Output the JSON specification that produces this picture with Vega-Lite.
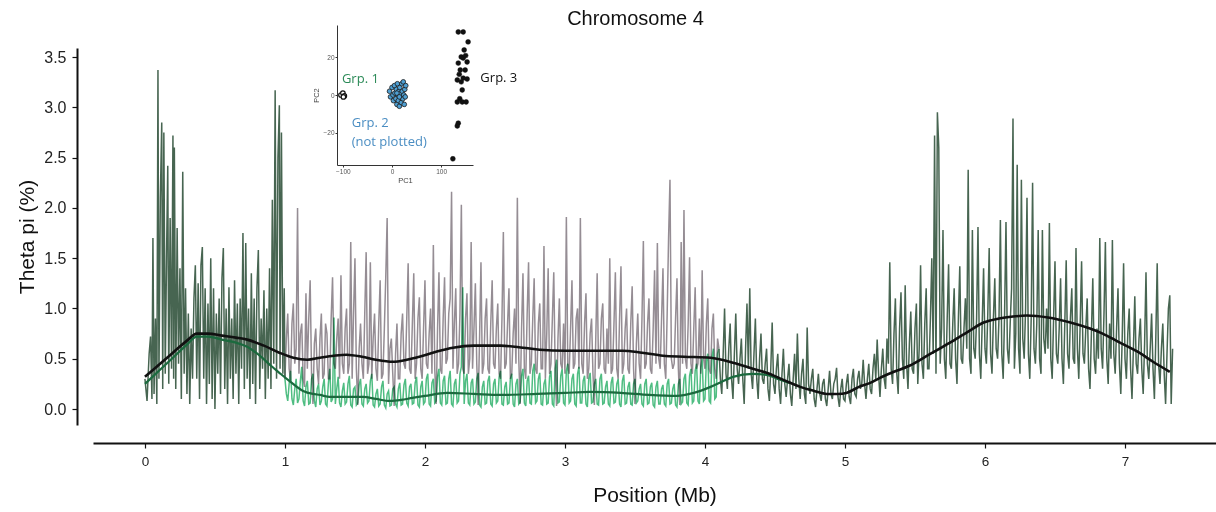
{
"$schema":"https://vega.github.io/schema/vega-lite/v6.json",
"width":1123,"height":377,
"autosize":{"type":"none"},
"padding":{"left":93,"top":48,"right":0,"bottom":87},
"background":"white",
"title":{"text":"Chromosome 4","fontSize":20,"font":"Liberation Sans","fontWeight":"normal","color":"#111","offset":-1,"dx":-19},
"datasets":{
"left":[{"x":0.00,"y":0.30},{"x":0.015,"y":0.08},{"x":0.03,"y":0.55},{"x":0.04,"y":0.72},{"x":0.05,"y":0.10},{"x":0.057,"y":1.70},{"x":0.065,"y":0.15},{"x":0.075,"y":0.90},{"x":0.085,"y":0.05},{"x":0.093,"y":3.37},{"x":0.10,"y":0.30},{"x":0.11,"y":2.10},{"x":0.12,"y":2.85},{"x":0.127,"y":0.20},{"x":0.135,"y":2.75},{"x":0.145,"y":0.35},{"x":0.155,"y":1.60},{"x":0.163,"y":2.42},{"x":0.17,"y":0.25},{"x":0.18,"y":1.90},{"x":0.19,"y":0.40},{"x":0.20,"y":2.72},{"x":0.205,"y":0.30},{"x":0.21,"y":2.60},{"x":0.22,"y":0.20},{"x":0.23,"y":1.80},{"x":0.24,"y":0.45},{"x":0.25,"y":1.40},{"x":0.26,"y":0.10},{"x":0.27,"y":2.36},{"x":0.28,"y":0.35},{"x":0.29,"y":1.20},{"x":0.30,"y":0.15},{"x":0.31,"y":0.95},{"x":0.32,"y":0.05},{"x":0.33,"y":0.80},{"x":0.34,"y":0.30},{"x":0.35,"y":1.10},{"x":0.36,"y":1.43},{"x":0.37,"y":0.30},{"x":0.38,"y":1.25},{"x":0.39,"y":0.10},{"x":0.40,"y":1.43},{"x":0.41,"y":1.61},{"x":0.42,"y":0.30},{"x":0.43,"y":1.20},{"x":0.44,"y":0.05},{"x":0.45,"y":1.05},{"x":0.46,"y":0.25},{"x":0.47,"y":1.50},{"x":0.48,"y":0.10},{"x":0.49,"y":1.20},{"x":0.50,"y":0.00},{"x":0.51,"y":0.95},{"x":0.52,"y":0.35},{"x":0.53,"y":1.10},{"x":0.54,"y":0.15},{"x":0.55,"y":1.30},{"x":0.56,"y":1.60},{"x":0.57,"y":0.20},{"x":0.58,"y":1.00},{"x":0.59,"y":0.05},{"x":0.60,"y":1.21},{"x":0.61,"y":0.30},{"x":0.62,"y":0.90},{"x":0.63,"y":0.10},{"x":0.64,"y":1.28},{"x":0.65,"y":0.35},{"x":0.66,"y":1.05},{"x":0.67,"y":0.05},{"x":0.68,"y":1.10},{"x":0.69,"y":0.40},{"x":0.70,"y":1.75},{"x":0.71,"y":0.20},{"x":0.72,"y":1.65},{"x":0.73,"y":0.30},{"x":0.74,"y":1.00},{"x":0.75,"y":0.10},{"x":0.76,"y":1.35},{"x":0.77,"y":0.25},{"x":0.78,"y":1.10},{"x":0.79,"y":0.05},{"x":0.80,"y":1.20},{"x":0.81,"y":1.58},{"x":0.82,"y":0.20},{"x":0.83,"y":0.90},{"x":0.84,"y":0.40},{"x":0.85,"y":1.18},{"x":0.86,"y":0.10},{"x":0.87,"y":1.00},{"x":0.88,"y":0.30},{"x":0.89,"y":1.40},{"x":0.90,"y":0.20},{"x":0.91,"y":2.08},{"x":0.92,"y":0.45},{"x":0.93,"y":3.17},{"x":0.94,"y":0.30},{"x":0.95,"y":2.50},{"x":0.96,"y":3.02},{"x":0.965,"y":0.40},{"x":0.975,"y":2.75},{"x":0.985,"y":0.35},{"x":0.995,"y":1.20},{"x":1.00,"y":0.30}],
"g3":[{"x":1.00,"y":0.30},{"x":1.01,"y":0.70},{"x":1.02,"y":0.95},{"x":1.03,"y":0.40},{"x":1.04,"y":0.28},{"x":1.05,"y":0.85},{"x":1.06,"y":1.05},{"x":1.07,"y":0.45},{"x":1.08,"y":0.60},{"x":1.09,"y":2.00},
{"x":1.10,"y":0.35},{"x":1.11,"y":0.75},{"x":1.12,"y":0.85},{"x":1.13,"y":0.30},{"x":1.14,"y":0.22},{"x":1.15,"y":1.15},{"x":1.16,"y":0.40},{"x":1.17,"y":0.90},{"x":1.18,"y":1.28},{"x":1.19,"y":0.35},
{"x":1.20,"y":0.05},{"x":1.21,"y":0.65},{"x":1.22,"y":0.80},{"x":1.23,"y":0.40},{"x":1.24,"y":0.25},{"x":1.25,"y":0.70},{"x":1.26,"y":0.95},{"x":1.27,"y":0.30},{"x":1.28,"y":0.35},{"x":1.29,"y":0.85},
{"x":1.30,"y":0.75},{"x":1.31,"y":0.30},{"x":1.32,"y":0.30},{"x":1.33,"y":0.90},{"x":1.34,"y":1.31},{"x":1.35,"y":0.45},{"x":1.36,"y":0.40},{"x":1.37,"y":0.70},{"x":1.38,"y":0.90},{"x":1.39,"y":0.30},
{"x":1.40,"y":1.33},{"x":1.41,"y":0.45},{"x":1.42,"y":0.35},{"x":1.43,"y":0.80},{"x":1.44,"y":1.00},{"x":1.45,"y":0.35},{"x":1.46,"y":0.45},{"x":1.47,"y":1.66},{"x":1.48,"y":0.30},{"x":1.49,"y":0.95},
{"x":1.50,"y":1.50},{"x":1.51,"y":0.40},{"x":1.52,"y":0.04},{"x":1.53,"y":0.60},{"x":1.54,"y":0.85},{"x":1.55,"y":0.45},{"x":1.56,"y":0.30},{"x":1.57,"y":0.95},{"x":1.58,"y":1.56},{"x":1.59,"y":0.35},
{"x":1.60,"y":0.45},{"x":1.61,"y":1.46},{"x":1.62,"y":0.30},{"x":1.63,"y":0.70},{"x":1.64,"y":0.95},{"x":1.65,"y":0.40},{"x":1.66,"y":0.28},{"x":1.67,"y":0.85},{"x":1.68,"y":1.28},{"x":1.69,"y":0.30},
{"x":1.70,"y":0.35},{"x":1.71,"y":0.80},{"x":1.72,"y":1.31},{"x":1.73,"y":1.90},{"x":1.74,"y":0.25},{"x":1.75,"y":0.60},{"x":1.76,"y":0.70},{"x":1.77,"y":0.35},{"x":1.78,"y":0.03},{"x":1.79,"y":0.55},
{"x":1.80,"y":0.85},{"x":1.81,"y":0.30},{"x":1.82,"y":0.30},{"x":1.83,"y":0.75},{"x":1.84,"y":0.95},{"x":1.85,"y":0.45},{"x":1.86,"y":0.40},{"x":1.87,"y":0.90},{"x":1.88,"y":1.45},{"x":1.89,"y":0.40},
{"x":1.90,"y":0.35},{"x":1.91,"y":0.85},{"x":1.92,"y":1.35},{"x":1.93,"y":0.30},{"x":1.94,"y":0.45},{"x":1.95,"y":0.90},{"x":1.96,"y":1.11},{"x":1.97,"y":0.40},{"x":1.98,"y":0.30},{"x":1.99,"y":0.80},
{"x":2.00,"y":1.28},{"x":2.01,"y":0.45},{"x":2.02,"y":0.40},{"x":2.03,"y":0.75},{"x":2.04,"y":1.00},{"x":2.05,"y":0.35},{"x":2.06,"y":1.63},{"x":2.07,"y":0.40},{"x":2.08,"y":0.05},{"x":2.09,"y":0.80},
{"x":2.10,"y":1.36},{"x":2.11,"y":0.40},{"x":2.12,"y":0.35},{"x":2.13,"y":0.90},{"x":2.14,"y":1.31},{"x":2.15,"y":0.45},{"x":2.16,"y":0.50},{"x":2.17,"y":0.95},{"x":2.18,"y":1.10},{"x":2.19,"y":2.16},
{"x":2.20,"y":0.40},{"x":2.21,"y":0.85},{"x":2.22,"y":1.20},{"x":2.23,"y":0.35},{"x":2.24,"y":0.45},{"x":2.25,"y":0.95},{"x":2.26,"y":2.03},{"x":2.27,"y":0.40},{"x":2.28,"y":0.35},{"x":2.29,"y":0.90},
{"x":2.30,"y":1.15},{"x":2.31,"y":0.35},{"x":2.32,"y":0.50},{"x":2.33,"y":1.66},{"x":2.34,"y":0.40},{"x":2.35,"y":0.80},{"x":2.36,"y":1.25},{"x":2.37,"y":0.45},{"x":2.38,"y":0.04},{"x":2.39,"y":0.70},
{"x":2.40,"y":1.46},{"x":2.41,"y":0.35},{"x":2.42,"y":0.45},{"x":2.43,"y":0.90},{"x":2.44,"y":1.10},{"x":2.45,"y":0.40},{"x":2.46,"y":0.35},{"x":2.47,"y":0.85},{"x":2.48,"y":1.28},{"x":2.49,"y":0.45},
{"x":2.50,"y":0.40},{"x":2.51,"y":0.80},{"x":2.52,"y":1.05},{"x":2.53,"y":0.35},{"x":2.54,"y":0.30},{"x":2.55,"y":0.90},{"x":2.56,"y":1.76},{"x":2.57,"y":0.40},{"x":2.58,"y":0.45},{"x":2.59,"y":0.85},
{"x":2.60,"y":1.20},{"x":2.61,"y":0.30},{"x":2.62,"y":0.35},{"x":2.63,"y":0.75},{"x":2.64,"y":1.00},{"x":2.65,"y":0.45},{"x":2.66,"y":2.10},{"x":2.67,"y":0.50},{"x":2.68,"y":0.05},{"x":2.69,"y":0.80},
{"x":2.70,"y":1.35},{"x":2.71,"y":0.40},{"x":2.72,"y":0.30},{"x":2.73,"y":0.95},{"x":2.74,"y":1.46},{"x":2.75,"y":0.35},{"x":2.76,"y":0.45},{"x":2.77,"y":0.90},{"x":2.78,"y":1.30},{"x":2.79,"y":0.40},
{"x":2.80,"y":0.35},{"x":2.81,"y":0.85},{"x":2.82,"y":1.05},{"x":2.83,"y":0.40},{"x":2.84,"y":0.40},{"x":2.85,"y":1.62},{"x":2.86,"y":0.30},{"x":2.87,"y":0.75},{"x":2.88,"y":1.40},{"x":2.89,"y":0.35},
{"x":2.90,"y":0.45},{"x":2.91,"y":0.90},{"x":2.92,"y":1.36},{"x":2.93,"y":0.40},{"x":2.94,"y":0.03},{"x":2.95,"y":0.70},{"x":2.96,"y":1.10},{"x":2.97,"y":0.45},{"x":2.98,"y":0.40},{"x":2.99,"y":0.85},
{"x":3.00,"y":0.35},{"x":3.01,"y":1.91},{"x":3.02,"y":0.45},{"x":3.03,"y":0.35},{"x":3.04,"y":0.80},{"x":3.05,"y":1.28},{"x":3.06,"y":0.40},{"x":3.07,"y":0.45},{"x":3.08,"y":0.90},{"x":3.09,"y":1.00},
{"x":3.10,"y":0.40},{"x":3.11,"y":1.90},{"x":3.12,"y":0.45},{"x":3.13,"y":0.35},{"x":3.14,"y":0.85},{"x":3.15,"y":1.15},{"x":3.16,"y":0.30},{"x":3.17,"y":0.40},{"x":3.18,"y":0.75},{"x":3.19,"y":0.90},
{"x":3.20,"y":0.35},{"x":3.21,"y":0.04},{"x":3.22,"y":0.70},{"x":3.23,"y":1.35},{"x":3.24,"y":0.40},{"x":3.25,"y":0.45},{"x":3.26,"y":0.90},{"x":3.27,"y":1.05},{"x":3.28,"y":0.40},{"x":3.29,"y":0.35},
{"x":3.30,"y":0.80},{"x":3.31,"y":0.45},{"x":3.32,"y":1.50},{"x":3.33,"y":0.35},{"x":3.34,"y":0.40},{"x":3.35,"y":0.85},{"x":3.36,"y":1.36},{"x":3.37,"y":0.40},{"x":3.38,"y":0.30},{"x":3.39,"y":0.90},
{"x":3.40,"y":1.42},{"x":3.41,"y":0.35},{"x":3.42,"y":0.45},{"x":3.43,"y":0.80},{"x":3.44,"y":1.00},{"x":3.45,"y":0.40},{"x":3.46,"y":0.35},{"x":3.47,"y":0.85},{"x":3.48,"y":1.22},{"x":3.49,"y":0.40},
{"x":3.50,"y":0.05},{"x":3.51,"y":0.65},{"x":3.52,"y":0.95},{"x":3.53,"y":0.45},{"x":3.54,"y":0.30},{"x":3.55,"y":0.90},{"x":3.56,"y":1.67},{"x":3.57,"y":0.40},{"x":3.58,"y":0.45},{"x":3.59,"y":0.85},
{"x":3.60,"y":1.10},{"x":3.61,"y":0.40},{"x":3.62,"y":0.35},{"x":3.63,"y":0.80},{"x":3.64,"y":1.38},{"x":3.65,"y":0.45},{"x":3.66,"y":1.65},{"x":3.67,"y":0.50},{"x":3.68,"y":0.40},{"x":3.69,"y":0.90},
{"x":3.70,"y":1.40},{"x":3.71,"y":0.45},{"x":3.72,"y":0.30},{"x":3.73,"y":0.95},{"x":3.74,"y":1.70},{"x":3.75,"y":2.28},{"x":3.76,"y":0.50},{"x":3.77,"y":0.40},{"x":3.78,"y":0.45},{"x":3.79,"y":0.90},
{"x":3.80,"y":1.30},{"x":3.81,"y":0.40},{"x":3.82,"y":0.04},{"x":3.83,"y":1.66},{"x":3.84,"y":0.45},{"x":3.85,"y":1.98},{"x":3.86,"y":0.50},{"x":3.87,"y":0.40},{"x":3.88,"y":0.85},{"x":3.89,"y":1.51},
{"x":3.90,"y":0.45},{"x":3.91,"y":0.35},{"x":3.92,"y":0.80},{"x":3.93,"y":1.21},{"x":3.94,"y":0.40},{"x":3.95,"y":0.45},{"x":3.96,"y":0.90},{"x":3.97,"y":0.35},{"x":3.98,"y":1.38},{"x":3.99,"y":0.50},
{"x":4.00,"y":0.40},{"x":4.01,"y":0.85},{"x":4.02,"y":1.10},{"x":4.03,"y":0.40},{"x":4.04,"y":0.35},{"x":4.05,"y":0.80},{"x":4.06,"y":0.95},{"x":4.07,"y":0.40},{"x":4.08,"y":0.30},{"x":4.09,"y":0.70},{"x":4.10,"y":0.60}],
"g1":[{"x":1.00,"y":0.30},{"x":1.01,"y":0.15},{"x":1.02,"y":0.08},{"x":1.03,"y":0.25},{"x":1.04,"y":0.38},{"x":1.05,"y":0.10},{"x":1.06,"y":0.04},{"x":1.07,"y":0.20},{"x":1.08,"y":0.30},{"x":1.09,"y":0.06},
{"x":1.10,"y":0.10},{"x":1.11,"y":0.28},{"x":1.12,"y":0.42},{"x":1.13,"y":0.08},{"x":1.14,"y":0.03},{"x":1.15,"y":0.22},{"x":1.16,"y":0.28},{"x":1.17,"y":0.05},{"x":1.18,"y":0.06},{"x":1.19,"y":0.30},
{"x":1.20,"y":0.35},{"x":1.21,"y":0.08},{"x":1.22,"y":0.02},{"x":1.23,"y":0.20},{"x":1.24,"y":0.25},{"x":1.25,"y":0.04},{"x":1.26,"y":0.08},{"x":1.27,"y":0.22},{"x":1.28,"y":0.30},{"x":1.29,"y":0.05},
{"x":1.30,"y":0.03},{"x":1.31,"y":0.25},{"x":1.32,"y":0.40},{"x":1.33,"y":0.07},{"x":1.34,"y":0.10},{"x":1.35,"y":0.91},{"x":1.36,"y":0.05},{"x":1.37,"y":0.20},{"x":1.38,"y":0.32},{"x":1.39,"y":0.06},
{"x":1.40,"y":0.02},{"x":1.41,"y":0.18},{"x":1.42,"y":0.26},{"x":1.43,"y":0.05},{"x":1.44,"y":0.07},{"x":1.45,"y":0.25},{"x":1.46,"y":0.33},{"x":1.47,"y":0.04},{"x":1.48,"y":0.02},{"x":1.49,"y":0.20},
{"x":1.50,"y":0.22},{"x":1.51,"y":0.04},{"x":1.52,"y":0.06},{"x":1.53,"y":0.24},{"x":1.54,"y":0.30},{"x":1.55,"y":0.05},{"x":1.56,"y":0.03},{"x":1.57,"y":0.20},{"x":1.58,"y":0.25},{"x":1.59,"y":0.06},
{"x":1.60,"y":0.08},{"x":1.61,"y":0.28},{"x":1.62,"y":0.35},{"x":1.63,"y":0.04},{"x":1.64,"y":0.02},{"x":1.65,"y":0.15},{"x":1.66,"y":0.20},{"x":1.67,"y":0.03},{"x":1.68,"y":0.05},{"x":1.69,"y":0.22},
{"x":1.70,"y":0.28},{"x":1.71,"y":0.04},{"x":1.72,"y":0.01},{"x":1.73,"y":0.15},{"x":1.74,"y":0.18},{"x":1.75,"y":0.03},{"x":1.76,"y":0.04},{"x":1.77,"y":0.20},{"x":1.78,"y":0.22},{"x":1.79,"y":0.05},
{"x":1.80,"y":0.02},{"x":1.81,"y":0.20},{"x":1.82,"y":0.26},{"x":1.83,"y":0.04},{"x":1.84,"y":0.05},{"x":1.85,"y":0.24},{"x":1.86,"y":0.30},{"x":1.87,"y":0.06},{"x":1.88,"y":0.03},{"x":1.89,"y":0.22},
{"x":1.90,"y":0.25},{"x":1.91,"y":0.05},{"x":1.92,"y":0.06},{"x":1.93,"y":0.26},{"x":1.94,"y":0.32},{"x":1.95,"y":0.04},{"x":1.96,"y":0.02},{"x":1.97,"y":0.22},{"x":1.98,"y":0.28},{"x":1.99,"y":0.05},
{"x":2.00,"y":0.07},{"x":2.01,"y":0.30},{"x":2.02,"y":0.35},{"x":2.03,"y":0.05},{"x":2.04,"y":0.03},{"x":2.05,"y":0.26},{"x":2.06,"y":0.30},{"x":2.07,"y":0.06},{"x":2.08,"y":0.08},{"x":2.09,"y":0.32},
{"x":2.10,"y":0.40},{"x":2.11,"y":0.06},{"x":2.12,"y":0.04},{"x":2.13,"y":0.28},{"x":2.14,"y":0.33},{"x":2.15,"y":0.05},{"x":2.16,"y":0.06},{"x":2.17,"y":0.30},{"x":2.18,"y":0.38},{"x":2.19,"y":0.05},
{"x":2.20,"y":0.03},{"x":2.21,"y":0.25},{"x":2.22,"y":0.30},{"x":2.23,"y":0.06},{"x":2.24,"y":0.08},{"x":2.25,"y":0.35},{"x":2.26,"y":0.42},{"x":2.27,"y":1.21},{"x":2.28,"y":0.05},{"x":2.29,"y":0.28},
{"x":2.30,"y":0.35},{"x":2.31,"y":0.06},{"x":2.32,"y":0.04},{"x":2.33,"y":0.26},{"x":2.34,"y":0.30},{"x":2.35,"y":0.05},{"x":2.36,"y":0.07},{"x":2.37,"y":0.30},{"x":2.38,"y":0.36},{"x":2.39,"y":0.04},
{"x":2.40,"y":0.02},{"x":2.41,"y":0.22},{"x":2.42,"y":0.28},{"x":2.43,"y":0.05},{"x":2.44,"y":0.06},{"x":2.45,"y":0.28},{"x":2.46,"y":0.33},{"x":2.47,"y":0.05},{"x":2.48,"y":0.03},{"x":2.49,"y":0.25},
{"x":2.50,"y":0.30},{"x":2.51,"y":0.06},{"x":2.52,"y":0.08},{"x":2.53,"y":0.32},{"x":2.54,"y":0.38},{"x":2.55,"y":0.05},{"x":2.56,"y":0.04},{"x":2.57,"y":0.22},{"x":2.58,"y":0.27},{"x":2.59,"y":0.05},
{"x":2.60,"y":0.06},{"x":2.61,"y":0.30},{"x":2.62,"y":0.35},{"x":2.63,"y":0.05},{"x":2.64,"y":0.02},{"x":2.65,"y":0.25},{"x":2.66,"y":0.30},{"x":2.67,"y":0.05},{"x":2.68,"y":0.07},{"x":2.69,"y":0.33},
{"x":2.70,"y":0.40},{"x":2.71,"y":0.06},{"x":2.72,"y":0.03},{"x":2.73,"y":0.28},{"x":2.74,"y":0.33},{"x":2.75,"y":0.06},{"x":2.76,"y":0.05},{"x":2.77,"y":0.38},{"x":2.78,"y":0.45},{"x":2.79,"y":0.06},
{"x":2.80,"y":0.08},{"x":2.81,"y":0.30},{"x":2.82,"y":0.36},{"x":2.83,"y":0.05},{"x":2.84,"y":0.04},{"x":2.85,"y":0.25},{"x":2.86,"y":0.30},{"x":2.87,"y":0.05},{"x":2.88,"y":0.06},{"x":2.89,"y":0.32},
{"x":2.90,"y":0.38},{"x":2.91,"y":0.05},{"x":2.92,"y":0.03},{"x":2.93,"y":0.40},{"x":2.94,"y":0.49},{"x":2.95,"y":0.06},{"x":2.96,"y":0.07},{"x":2.97,"y":0.33},{"x":2.98,"y":0.40},{"x":2.99,"y":0.06},
{"x":3.00,"y":0.04},{"x":3.01,"y":0.38},{"x":3.02,"y":0.45},{"x":3.03,"y":0.06},{"x":3.04,"y":0.08},{"x":3.05,"y":0.30},{"x":3.06,"y":0.35},{"x":3.07,"y":0.05},{"x":3.08,"y":0.03},{"x":3.09,"y":0.35},
{"x":3.10,"y":0.42},{"x":3.11,"y":0.06},{"x":3.12,"y":0.06},{"x":3.13,"y":0.28},{"x":3.14,"y":0.33},{"x":3.15,"y":0.05},{"x":3.16,"y":0.02},{"x":3.17,"y":0.30},{"x":3.18,"y":0.36},{"x":3.19,"y":0.06},
{"x":3.20,"y":0.07},{"x":3.21,"y":0.25},{"x":3.22,"y":0.30},{"x":3.23,"y":0.05},{"x":3.24,"y":0.04},{"x":3.25,"y":0.30},{"x":3.26,"y":0.35},{"x":3.27,"y":0.05},{"x":3.28,"y":0.06},{"x":3.29,"y":0.22},
{"x":3.30,"y":0.28},{"x":3.31,"y":0.05},{"x":3.32,"y":0.03},{"x":3.33,"y":0.26},{"x":3.34,"y":0.32},{"x":3.35,"y":0.06},{"x":3.36,"y":0.07},{"x":3.37,"y":0.25},{"x":3.38,"y":0.30},{"x":3.39,"y":0.05},
{"x":3.40,"y":0.02},{"x":3.41,"y":0.28},{"x":3.42,"y":0.34},{"x":3.43,"y":0.05},{"x":3.44,"y":0.06},{"x":3.45,"y":0.22},{"x":3.46,"y":0.27},{"x":3.47,"y":0.05},{"x":3.48,"y":0.04},{"x":3.49,"y":0.25},
{"x":3.50,"y":0.30},{"x":3.51,"y":0.06},{"x":3.52,"y":0.08},{"x":3.53,"y":0.20},{"x":3.54,"y":0.25},{"x":3.55,"y":0.05},{"x":3.56,"y":0.03},{"x":3.57,"y":0.25},{"x":3.58,"y":0.30},{"x":3.59,"y":0.05},
{"x":3.60,"y":0.06},{"x":3.61,"y":0.22},{"x":3.62,"y":0.26},{"x":3.63,"y":0.04},{"x":3.64,"y":0.02},{"x":3.65,"y":0.22},{"x":3.66,"y":0.28},{"x":3.67,"y":0.05},{"x":3.68,"y":0.05},{"x":3.69,"y":0.20},
{"x":3.70,"y":0.24},{"x":3.71,"y":0.05},{"x":3.72,"y":0.03},{"x":3.73,"y":0.25},{"x":3.74,"y":0.30},{"x":3.75,"y":0.05},{"x":3.76,"y":0.06},{"x":3.77,"y":0.20},{"x":3.78,"y":0.25},{"x":3.79,"y":0.04},
{"x":3.80,"y":0.02},{"x":3.81,"y":0.25},{"x":3.82,"y":0.30},{"x":3.83,"y":0.05},{"x":3.84,"y":0.07},{"x":3.85,"y":0.30},{"x":3.86,"y":0.35},{"x":3.87,"y":0.06},{"x":3.88,"y":0.04},{"x":3.89,"y":0.33},
{"x":3.90,"y":0.40},{"x":3.91,"y":0.06},{"x":3.92,"y":0.08},{"x":3.93,"y":0.38},{"x":3.94,"y":0.45},{"x":3.95,"y":0.08},{"x":3.96,"y":0.05},{"x":3.97,"y":0.42},{"x":3.98,"y":0.50},{"x":3.99,"y":0.08},
{"x":4.00,"y":0.10},{"x":4.01,"y":0.48},{"x":4.02,"y":0.55},{"x":4.03,"y":0.08},{"x":4.04,"y":0.06},{"x":4.05,"y":0.52},{"x":4.06,"y":0.60},{"x":4.07,"y":0.10},{"x":4.08,"y":0.12},{"x":4.09,"y":0.55},{"x":4.10,"y":0.60}],
"right":[{"x":4.10,"y":0.60},{"x":4.11,"y":0.30},{"x":4.12,"y":0.15},{"x":4.13,"y":0.55},{"x":4.14,"y":1.00},{"x":4.15,"y":0.35},{"x":4.16,"y":0.20},{"x":4.17,"y":0.60},{"x":4.18,"y":0.85},{"x":4.19,"y":0.30},
{"x":4.20,"y":0.10},{"x":4.21,"y":0.55},{"x":4.22,"y":0.95},{"x":4.23,"y":0.40},{"x":4.24,"y":0.25},{"x":4.25,"y":0.50},{"x":4.26,"y":0.70},{"x":4.27,"y":0.30},{"x":4.28,"y":0.05},{"x":4.29,"y":0.60},
{"x":4.30,"y":1.05},{"x":4.31,"y":0.40},{"x":4.32,"y":1.20},{"x":4.33,"y":0.35},{"x":4.34,"y":0.20},{"x":4.35,"y":0.55},{"x":4.36,"y":0.90},{"x":4.37,"y":0.30},{"x":4.38,"y":0.10},{"x":4.39,"y":0.50},
{"x":4.40,"y":0.75},{"x":4.41,"y":0.30},{"x":4.42,"y":0.25},{"x":4.43,"y":0.45},{"x":4.44,"y":0.60},{"x":4.45,"y":0.20},{"x":4.46,"y":0.08},{"x":4.47,"y":0.40},{"x":4.48,"y":0.86},{"x":4.49,"y":0.25},
{"x":4.50,"y":0.15},{"x":4.51,"y":0.40},{"x":4.52,"y":0.55},{"x":4.53,"y":0.20},{"x":4.54,"y":0.05},{"x":4.55,"y":0.35},{"x":4.56,"y":0.60},{"x":4.57,"y":0.25},{"x":4.58,"y":0.12},{"x":4.59,"y":0.30},
{"x":4.60,"y":0.45},{"x":4.61,"y":0.15},{"x":4.62,"y":0.03},{"x":4.63,"y":0.30},{"x":4.64,"y":0.55},{"x":4.65,"y":0.20},{"x":4.66,"y":0.75},{"x":4.67,"y":0.30},{"x":4.68,"y":0.10},{"x":4.69,"y":0.35},
{"x":4.70,"y":0.50},{"x":4.71,"y":0.15},{"x":4.72,"y":0.05},{"x":4.73,"y":0.81},{"x":4.74,"y":0.25},{"x":4.75,"y":0.15},{"x":4.76,"y":0.30},{"x":4.77,"y":0.40},{"x":4.78,"y":0.10},{"x":4.79,"y":0.02},
{"x":4.80,"y":0.20},{"x":4.81,"y":0.35},{"x":4.82,"y":0.15},{"x":4.83,"y":0.08},{"x":4.84,"y":0.25},{"x":4.85,"y":0.30},{"x":4.86,"y":0.10},{"x":4.87,"y":0.03},{"x":4.88,"y":0.20},{"x":4.89,"y":0.38},
{"x":4.90,"y":0.15},{"x":4.91,"y":0.10},{"x":4.92,"y":0.25},{"x":4.93,"y":0.30},{"x":4.94,"y":0.41},{"x":4.95,"y":0.12},{"x":4.96,"y":0.02},{"x":4.97,"y":0.20},{"x":4.98,"y":0.30},{"x":4.99,"y":0.10},
{"x":5.00,"y":0.08},{"x":5.01,"y":0.25},{"x":5.02,"y":0.35},{"x":5.03,"y":0.12},{"x":5.04,"y":0.05},{"x":5.05,"y":0.30},{"x":5.06,"y":0.40},{"x":5.07,"y":0.15},{"x":5.08,"y":0.12},{"x":5.09,"y":0.30},
{"x":5.10,"y":0.38},{"x":5.11,"y":0.20},{"x":5.12,"y":0.25},{"x":5.13,"y":0.49},{"x":5.14,"y":0.25},{"x":5.15,"y":0.10},{"x":5.16,"y":0.30},{"x":5.17,"y":0.45},{"x":5.18,"y":0.20},{"x":5.19,"y":0.15},
{"x":5.20,"y":0.40},{"x":5.21,"y":0.55},{"x":5.22,"y":0.30},{"x":5.23,"y":0.69},{"x":5.24,"y":0.35},{"x":5.25,"y":0.12},{"x":5.26,"y":0.40},{"x":5.27,"y":0.60},{"x":5.28,"y":0.30},{"x":5.29,"y":0.20},
{"x":5.30,"y":0.70},{"x":5.31,"y":0.45},{"x":5.32,"y":1.46},{"x":5.33,"y":0.40},{"x":5.34,"y":0.25},{"x":5.35,"y":0.75},{"x":5.36,"y":1.10},{"x":5.37,"y":0.35},{"x":5.38,"y":0.15},{"x":5.39,"y":0.80},
{"x":5.40,"y":1.16},{"x":5.41,"y":0.50},{"x":5.42,"y":0.30},{"x":5.43,"y":1.23},{"x":5.44,"y":0.45},{"x":5.45,"y":0.20},{"x":5.46,"y":0.65},{"x":5.47,"y":0.97},{"x":5.48,"y":0.40},{"x":5.49,"y":0.35},
{"x":5.50,"y":0.80},{"x":5.51,"y":1.05},{"x":5.52,"y":0.25},{"x":5.53,"y":0.60},{"x":5.54,"y":1.43},{"x":5.55,"y":0.45},{"x":5.56,"y":0.30},{"x":5.57,"y":0.85},{"x":5.58,"y":1.20},{"x":5.59,"y":0.40},
{"x":5.60,"y":0.40},{"x":5.61,"y":0.90},{"x":5.62,"y":1.50},{"x":5.63,"y":0.55},{"x":5.64,"y":2.72},{"x":5.65,"y":0.35},{"x":5.66,"y":2.95},{"x":5.67,"y":2.60},{"x":5.68,"y":0.45},{"x":5.69,"y":0.80},
{"x":5.70,"y":1.78},{"x":5.71,"y":0.50},{"x":5.72,"y":0.30},{"x":5.73,"y":0.90},{"x":5.74,"y":1.44},{"x":5.75,"y":0.45},{"x":5.76,"y":0.40},{"x":5.77,"y":0.85},{"x":5.78,"y":1.20},{"x":5.79,"y":0.50},
{"x":5.80,"y":0.25},{"x":5.81,"y":0.90},{"x":5.82,"y":1.42},{"x":5.83,"y":0.50},{"x":5.84,"y":0.45},{"x":5.85,"y":0.80},{"x":5.86,"y":1.10},{"x":5.87,"y":0.60},{"x":5.88,"y":2.38},{"x":5.89,"y":0.50},
{"x":5.90,"y":0.35},{"x":5.91,"y":1.78},{"x":5.92,"y":0.60},{"x":5.93,"y":0.50},{"x":5.94,"y":0.90},{"x":5.95,"y":1.81},{"x":5.96,"y":0.55},{"x":5.97,"y":0.30},{"x":5.98,"y":0.85},{"x":5.99,"y":1.40},
{"x":6.00,"y":0.60},{"x":6.01,"y":0.45},{"x":6.02,"y":0.95},{"x":6.03,"y":1.60},{"x":6.04,"y":0.55},{"x":6.05,"y":0.35},{"x":6.06,"y":0.90},{"x":6.07,"y":1.30},{"x":6.08,"y":0.60},{"x":6.09,"y":0.50},
{"x":6.10,"y":0.90},{"x":6.11,"y":1.88},{"x":6.12,"y":0.55},{"x":6.13,"y":0.30},{"x":6.14,"y":0.95},{"x":6.15,"y":1.86},{"x":6.16,"y":0.60},{"x":6.17,"y":0.45},{"x":6.18,"y":0.85},{"x":6.19,"y":1.20},
{"x":6.20,"y":2.89},{"x":6.21,"y":0.40},{"x":6.22,"y":0.75},{"x":6.23,"y":2.43},{"x":6.24,"y":0.60},{"x":6.25,"y":0.35},{"x":6.26,"y":2.28},{"x":6.27,"y":0.70},{"x":6.28,"y":0.50},{"x":6.29,"y":1.00},
{"x":6.30,"y":2.10},{"x":6.31,"y":0.55},{"x":6.32,"y":0.30},{"x":6.33,"y":0.90},{"x":6.34,"y":2.25},{"x":6.35,"y":0.60},{"x":6.36,"y":0.45},{"x":6.37,"y":0.85},{"x":6.38,"y":1.78},{"x":6.39,"y":0.50},
{"x":6.40,"y":0.35},{"x":6.41,"y":1.78},{"x":6.42,"y":0.70},{"x":6.43,"y":0.55},{"x":6.44,"y":1.00},{"x":6.45,"y":0.60},{"x":6.46,"y":1.85},{"x":6.47,"y":0.50},{"x":6.48,"y":0.30},{"x":6.49,"y":0.90},
{"x":6.50,"y":1.47},{"x":6.51,"y":0.55},{"x":6.52,"y":0.45},{"x":6.53,"y":0.80},{"x":6.54,"y":1.30},{"x":6.55,"y":0.50},{"x":6.56,"y":0.25},{"x":6.57,"y":0.85},{"x":6.58,"y":1.48},{"x":6.59,"y":0.55},
{"x":6.60,"y":0.40},{"x":6.61,"y":0.90},{"x":6.62,"y":1.20},{"x":6.63,"y":0.50},{"x":6.64,"y":0.45},{"x":6.65,"y":1.60},{"x":6.66,"y":0.60},{"x":6.67,"y":0.30},{"x":6.68,"y":0.85},{"x":6.69,"y":1.47},
{"x":6.70,"y":0.55},{"x":6.71,"y":0.45},{"x":6.72,"y":0.80},{"x":6.73,"y":1.10},{"x":6.74,"y":0.40},{"x":6.75,"y":0.20},{"x":6.76,"y":0.75},{"x":6.77,"y":1.30},{"x":6.78,"y":0.50},{"x":6.79,"y":0.35},
{"x":6.80,"y":0.80},{"x":6.81,"y":0.50},{"x":6.82,"y":1.70},{"x":6.83,"y":0.60},{"x":6.84,"y":0.40},{"x":6.85,"y":0.95},{"x":6.86,"y":1.66},{"x":6.87,"y":0.50},{"x":6.88,"y":0.25},{"x":6.89,"y":0.85},
{"x":6.90,"y":0.50},{"x":6.91,"y":1.68},{"x":6.92,"y":0.55},{"x":6.93,"y":0.35},{"x":6.94,"y":0.80},{"x":6.95,"y":1.20},{"x":6.96,"y":0.45},{"x":6.97,"y":0.15},{"x":6.98,"y":0.70},{"x":6.99,"y":1.45},
{"x":7.00,"y":0.50},{"x":7.01,"y":0.30},{"x":7.02,"y":0.75},{"x":7.03,"y":1.00},{"x":7.04,"y":0.40},{"x":7.05,"y":0.10},{"x":7.06,"y":0.60},{"x":7.07,"y":1.12},{"x":7.08,"y":0.45},{"x":7.09,"y":0.35},
{"x":7.10,"y":0.70},{"x":7.11,"y":0.90},{"x":7.12,"y":0.40},{"x":7.13,"y":0.15},{"x":7.14,"y":0.65},{"x":7.15,"y":1.36},{"x":7.16,"y":0.45},{"x":7.17,"y":0.30},{"x":7.18,"y":0.60},{"x":7.19,"y":0.95},
{"x":7.20,"y":0.40},{"x":7.21,"y":0.10},{"x":7.22,"y":0.70},{"x":7.23,"y":1.45},{"x":7.24,"y":0.45},{"x":7.25,"y":0.25},{"x":7.26,"y":0.60},{"x":7.27,"y":0.85},{"x":7.28,"y":0.35},{"x":7.29,"y":0.05},
{"x":7.30,"y":0.55},{"x":7.31,"y":1.00},{"x":7.32,"y":1.13},{"x":7.33,"y":0.05},{"x":7.34,"y":0.60}],
"s1":[{"x":0,"y":0.25},{"x":0.1,"y":0.38},{"x":0.2,"y":0.51},{"x":0.3,"y":0.64},{"x":0.37,"y":0.72},{"x":0.45,"y":0.72},{"x":0.55,"y":0.69},{"x":0.65,"y":0.66},{"x":0.73,"y":0.62},{"x":0.82,"y":0.53},{"x":0.9,"y":0.43},{"x":0.96,"y":0.36},{"x":1.04,"y":0.27},{"x":1.13,"y":0.18},{"x":1.2,"y":0.15},{"x":1.25,"y":0.14},{"x":1.32,"y":0.12},{"x":1.45,"y":0.12},{"x":1.56,"y":0.12},{"x":1.65,"y":0.10},{"x":1.75,"y":0.08},{"x":1.83,"y":0.09},{"x":1.91,"y":0.11},{"x":2.0,"y":0.13},{"x":2.16,"y":0.16},{"x":2.35,"y":0.15},{"x":2.54,"y":0.14},{"x":2.8,"y":0.15},{"x":3.0,"y":0.16},{"x":3.18,"y":0.17},{"x":3.4,"y":0.16},{"x":3.6,"y":0.14},{"x":3.8,"y":0.13},{"x":3.92,"y":0.16},{"x":4.04,"y":0.22},{"x":4.12,"y":0.27},{"x":4.2,"y":0.32},{"x":4.34,"y":0.35},{"x":4.44,"y":0.34},{"x":4.52,"y":0.30},{"x":4.6,"y":0.26}],
"s3":[{"x":0,"y":0.32},{"x":0.1,"y":0.44},{"x":0.2,"y":0.56},{"x":0.3,"y":0.68},{"x":0.37,"y":0.75},{"x":0.45,"y":0.75},{"x":0.55,"y":0.73},{"x":0.65,"y":0.71},{"x":0.73,"y":0.69},{"x":0.85,"y":0.63},{"x":0.96,"y":0.56},{"x":1.06,"y":0.51},{"x":1.16,"y":0.49},{"x":1.25,"y":0.51},{"x":1.35,"y":0.53},{"x":1.44,"y":0.54},{"x":1.55,"y":0.52},{"x":1.65,"y":0.49},{"x":1.77,"y":0.47},{"x":1.87,"y":0.49},{"x":1.96,"y":0.52},{"x":2.08,"y":0.57},{"x":2.2,"y":0.61},{"x":2.35,"y":0.63},{"x":2.54,"y":0.63},{"x":2.7,"y":0.61},{"x":2.82,"y":0.59},{"x":3.0,"y":0.58},{"x":3.2,"y":0.58},{"x":3.41,"y":0.58},{"x":3.55,"y":0.56},{"x":3.7,"y":0.53},{"x":3.85,"y":0.52},{"x":4.04,"y":0.51},{"x":4.2,"y":0.46},{"x":4.32,"y":0.41},{"x":4.44,"y":0.36},{"x":4.56,"y":0.29},{"x":4.68,"y":0.22},{"x":4.78,"y":0.18},{"x":4.87,"y":0.15},{"x":4.95,"y":0.15},{"x":5.01,"y":0.16},{"x":5.1,"y":0.22},{"x":5.18,"y":0.26},{"x":5.25,"y":0.31},{"x":5.35,"y":0.37},{"x":5.46,"y":0.43},{"x":5.6,"y":0.54},{"x":5.75,"y":0.66},{"x":5.88,"y":0.77},{"x":5.99,"y":0.86},{"x":6.1,"y":0.90},{"x":6.2,"y":0.92},{"x":6.3,"y":0.93},{"x":6.45,"y":0.91},{"x":6.61,"y":0.86},{"x":6.75,"y":0.80},{"x":6.84,"y":0.75},{"x":6.95,"y":0.67},{"x":7.09,"y":0.57},{"x":7.2,"y":0.47},{"x":7.32,"y":0.37}],
"pca":[{"pc1":-104,"pc2":0,"g":"1"},{"pc1":-100,"pc2":1,"g":"1"},{"pc1":-97,"pc2":-0.5,"g":"1"},{"pc1":-99,"pc2":-1,"g":"1"},
{"pc1":-5,"pc2":2,"g":"2"},{"pc1":-3,"pc2":-1,"g":"2"},{"pc1":0,"pc2":4,"g":"2"},{"pc1":2,"pc2":0,"g":"2"},{"pc1":3,"pc2":-3,"g":"2"},{"pc1":5,"pc2":5,"g":"2"},{"pc1":6,"pc2":1,"g":"2"},{"pc1":8,"pc2":-2,"g":"2"},{"pc1":9,"pc2":3,"g":"2"},{"pc1":10,"pc2":-5,"g":"2"},{"pc1":11,"pc2":6,"g":"2"},{"pc1":12,"pc2":0,"g":"2"},{"pc1":13,"pc2":-3,"g":"2"},{"pc1":14,"pc2":2,"g":"2"},{"pc1":15,"pc2":-6,"g":"2"},{"pc1":16,"pc2":4,"g":"2"},{"pc1":17,"pc2":-1,"g":"2"},{"pc1":18,"pc2":1,"g":"2"},{"pc1":19,"pc2":-4,"g":"2"},{"pc1":20,"pc2":6,"g":"2"},{"pc1":21,"pc2":2,"g":"2"},{"pc1":22,"pc2":-2,"g":"2"},{"pc1":23,"pc2":7,"g":"2"},{"pc1":24,"pc2":0,"g":"2"},{"pc1":25,"pc2":-5,"g":"2"},{"pc1":26,"pc2":3,"g":"2"},{"pc1":27,"pc2":-1,"g":"2"},{"pc1":28,"pc2":5,"g":"2"},{"pc1":10,"pc2":1,"g":"2"},{"pc1":15,"pc2":-1,"g":"2"},
{"pc1":135,"pc2":33.6,"g":"3"},{"pc1":145,"pc2":33.6,"g":"3"},{"pc1":155,"pc2":28.3,"g":"3"},{"pc1":141,"pc2":20.3,"g":"3"},{"pc1":135,"pc2":17,"g":"3"},{"pc1":145,"pc2":19.7,"g":"3"},{"pc1":153,"pc2":17.6,"g":"3"},{"pc1":139,"pc2":13.3,"g":"3"},{"pc1":149,"pc2":13.3,"g":"3"},{"pc1":133,"pc2":8,"g":"3"},{"pc1":145,"pc2":9,"g":"3"},{"pc1":153,"pc2":8.5,"g":"3"},{"pc1":143,"pc2":2.7,"g":"3"},{"pc1":133,"pc2":-3.7,"g":"3"},{"pc1":143,"pc2":-3.7,"g":"3"},{"pc1":151,"pc2":-3.7,"g":"3"},{"pc1":135,"pc2":-15,"g":"3"},{"pc1":133,"pc2":-16.5,"g":"3"},{"pc1":124,"pc2":-34,"g":"3"},{"pc1":147,"pc2":24,"g":"3"},{"pc1":150,"pc2":21,"g":"3"},{"pc1":137,"pc2":11,"g":"3"},{"pc1":141,"pc2":7,"g":"3"},{"pc1":138,"pc2":-2,"g":"3"}],
"labels":[{"pc1":-102,"pc2":8.5,"label":"Grp. 1","g":"1"},{"pc1":-82,"pc2":-15,"label":"Grp. 2","g":"2"},{"pc1":-82,"pc2":-25,"label":"(not plotted)","g":"2"},{"pc1":180,"pc2":9,"label":"Grp. 3","g":"3"}]
},
"layer":[
{"encoding":{
 "x":{"field":"x","type":"quantitative","scale":{"domain":[-0.371,7.65],"nice":false,"zero":false},
  "axis":{"title":"Position (Mb)","values":[0,1,2,3,4,5,6,7],"format":"d","offset":18,"grid":false,"domainColor":"#111","domainWidth":2,"tickColor":"#111","tickWidth":1.2,"tickSize":5,"labelFontSize":13.5,"labelColor":"#222","labelPadding":6,"labelFont":"Liberation Sans","titleFont":"Liberation Sans","titleFontSize":21,"titleFontWeight":"normal","titleColor":"#111","titlePadding":17}},
 "y":{"field":"y","type":"quantitative","scale":{"domain":[-0.159,3.59],"nice":false,"zero":false},
  "axis":{"title":"Theta pi (%)","values":[0,0.5,1,1.5,2,2.5,3,3.5],"format":".1f","offset":16,"grid":false,"domainColor":"#111","domainWidth":2,"tickColor":"#111","tickWidth":1.2,"tickSize":5,"labelFontSize":16,"labelColor":"#222","labelPadding":6,"labelFont":"Liberation Sans","titleFont":"Liberation Sans","titleFontSize":21,"titleFontWeight":"normal","titleColor":"#111","titlePadding":6}}},
 "layer":[
  {"data":{"name":"g1"},"mark":{"type":"line","color":"#4fbd82","strokeWidth":1.5}},
  {"data":{"name":"g3"},"mark":{"type":"line","color":"#958d94","strokeWidth":1.5,"blend":"multiply"}},
  {"data":{"name":"left"},"mark":{"type":"line","color":"#476551","strokeWidth":1.5}},
  {"data":{"name":"right"},"mark":{"type":"line","color":"#476551","strokeWidth":1.5}},
  {"data":{"name":"s1"},"mark":{"type":"line","color":"#1b6a3e","strokeWidth":2.2,"interpolate":"monotone"}},
  {"data":{"name":"s3"},"mark":{"type":"line","color":"#111111","strokeWidth":2.6,"interpolate":"monotone"}}
 ]},
{"encoding":{
 "x":{"field":"pc1","type":"quantitative","scale":{"domain":[-112,165],"range":[244,380],"nice":false,"zero":false},
  "axis":{"orient":"bottom","offset":-260,"title":"PC1","values":[-100,0,100],"grid":false,"domainColor":"#333","domainWidth":1,"tickColor":"#333","tickSize":2,"labelFontSize":6.5,"labelColor":"#555","labelPadding":1,"titleFontSize":7.5,"titleFontWeight":"normal","titleColor":"#444","titlePadding":2,"labelFont":"Liberation Sans","titleFont":"Liberation Sans"}},
 "y":{"field":"pc2","type":"quantitative","scale":{"domain":[-37.3,37.3],"range":[117,-23],"nice":false,"zero":false},
  "axis":{"orient":"left","offset":-244,"title":"PC2","values":[-20,0,20],"grid":false,"domainColor":"#333","domainWidth":1,"tickColor":"#333","tickSize":2,"labelFontSize":6.5,"labelColor":"#555","labelPadding":1,"titleFontSize":7.5,"titleFontWeight":"normal","titleColor":"#444","titlePadding":2,"labelFont":"Liberation Sans","titleFont":"Liberation Sans"}}},
 "layer":[
  {"data":{"name":"pca"},"transform":[{"filter":"datum.g == '1'"}],"mark":{"type":"point","filled":true,"fill":"white","stroke":"#111","strokeWidth":1.2,"size":20,"opacity":1}},
  {"data":{"name":"pca"},"transform":[{"filter":"datum.g == '2'"}],"mark":{"type":"point","filled":true,"fill":"#4f9fd2","stroke":"#1a1a1a","strokeWidth":0.8,"size":22,"opacity":1}},
  {"data":{"name":"pca"},"transform":[{"filter":"datum.g == '3'"}],"mark":{"type":"point","filled":true,"fill":"#111","stroke":"#111","strokeWidth":0.5,"size":24,"opacity":1}},
  {"data":{"name":"labels"},"mark":{"type":"text","align":"left","baseline":"middle","font":"Open Sans","fontSize":13},
   "encoding":{"text":{"field":"label"},"color":{"field":"g","type":"nominal","scale":{"domain":["1","2","3"],"range":["#2b8a57","#4a8dc2","#111111"]},"legend":null}}}
 ]}
],
"resolve":{"scale":{"x":"independent","y":"independent"}},
"config":{"view":{"stroke":null},"font":"Liberation Sans"}
}
